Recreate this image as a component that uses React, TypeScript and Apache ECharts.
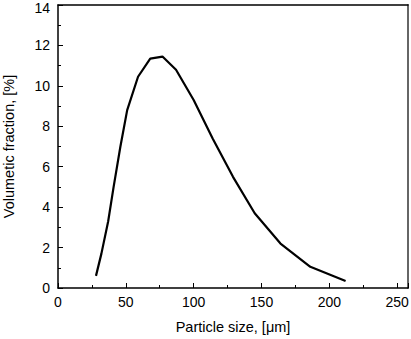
import React, { useEffect, useRef } from "react";
import * as echarts from "echarts";

const particleSize = [28, 32, 37, 41, 46, 51, 59, 68, 77, 87, 100, 114, 129, 145, 164, 186, 212];
const volumeFraction = [0.6, 1.7, 3.3, 5.0, 7.0, 8.8, 10.45, 11.35, 11.45, 10.8, 9.3, 7.4, 5.5, 3.7, 2.2, 1.05, 0.35];
const xTicks = [0, 50, 100, 150, 200, 250];
const yTicks = [0, 2, 4, 6, 8, 10, 12, 14];

export default function App() {
  const ref = useRef<HTMLDivElement>(null);
  useEffect(() => {
    if (!ref.current) return;
    const chart = echarts.init(ref.current, undefined, { renderer: "svg" });
    const font = "Liberation Sans, Arial, sans-serif";
    const data = particleSize.map((x, i) => [x, volumeFraction[i]]);
    const yMax = yTicks[yTicks.length - 1];
    chart.setOption({
      animation: false,
      grid: { left: 58, right: 3, top: 5, bottom: 51, containLabel: false, outerBoundsMode: "none" },
      xAxis: [
        {
          type: "value",
          min: 0,
          max: 258,
          interval: 50,
          name: "Particle size, [μm]",
          nameLocation: "middle",
          nameGap: 31,
          nameTextStyle: { fontFamily: font, fontSize: 14.5, color: "#000" },
          axisLine: { show: true, onZero: false, lineStyle: { color: "#000", width: 1.5 } },
          axisTick: { show: true, inside: true, length: 5, lineStyle: { color: "#000" } },
          minorTick: { show: true, splitNumber: 2, length: 3, lineStyle: { color: "#000" } },
          axisLabel: {
            fontFamily: font,
            fontSize: 14,
            color: "#000",
            margin: 7,
            formatter: (v: number) => (xTicks.includes(v) ? String(v) : ""),
          },
          splitLine: { show: false },
        },
        {
          type: "value",
          position: "top",
          min: 0,
          max: 258,
          axisLine: { show: true, onZero: false, lineStyle: { color: "#000", width: 1.5 } },
          axisTick: { show: false },
          axisLabel: { show: false },
          splitLine: { show: false },
        },
      ],
      yAxis: [
        {
          type: "value",
          min: 0,
          max: yMax,
          interval: 2,
          name: "Volumetic fraction, [%]",
          nameLocation: "middle",
          nameGap: 42,
          nameTextStyle: { fontFamily: font, fontSize: 14.5, color: "#000" },
          axisLine: { show: true, onZero: false, lineStyle: { color: "#000", width: 1.5 } },
          axisTick: { show: true, inside: true, length: 5, lineStyle: { color: "#000" } },
          minorTick: { show: true, splitNumber: 2, length: 3, lineStyle: { color: "#000" } },
          axisLabel: {
            fontFamily: font,
            fontSize: 14,
            color: "#000",
            margin: 8,
            formatter: (v: number) =>
              yTicks.includes(v) ? (v === yMax ? "{top|" + v + "}" : String(v)) : "",
            rich: {
              top: { fontFamily: font, fontSize: 14, color: "#000", padding: [5, 0, 0, 0] },
            },
          },
          splitLine: { show: false },
        },
        {
          type: "value",
          position: "right",
          min: 0,
          max: yMax,
          axisLine: { show: true, onZero: false, lineStyle: { color: "#666", width: 2 } },
          axisTick: { show: false },
          axisLabel: { show: false },
          splitLine: { show: false },
        },
      ],
      series: [
        {
          type: "line",
          data,
          xAxisIndex: 0,
          yAxisIndex: 0,
          showSymbol: false,
          symbol: "none",
          lineStyle: { color: "#000", width: 2.2 },
        },
      ],
    });
    return () => chart.dispose();
  }, []);
  return (
    <div
      ref={ref}
      style={{ position: "absolute", left: 0, top: 0, width: 411, height: 339 }}
    />
  );
}
